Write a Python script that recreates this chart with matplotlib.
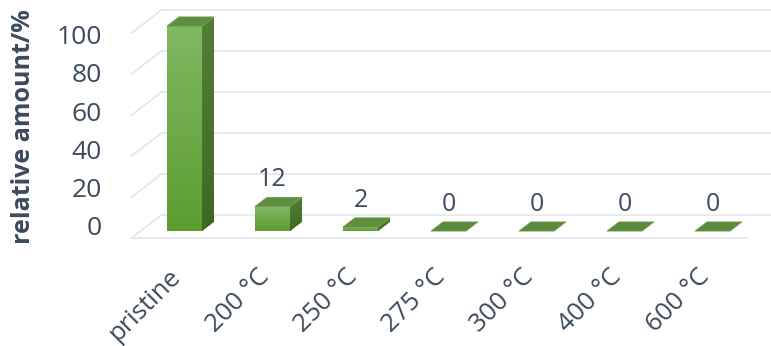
import matplotlib
matplotlib.use("Agg")
import matplotlib.pyplot as plt
import numpy as np
from matplotlib.patches import Polygon
from matplotlib.colors import LinearSegmentedColormap

plt.rcParams['font.family'] = ['Open Sans', 'DejaVu Sans']

categories = ['pristine', '200 °C', '250 °C', '275 °C', '300 °C', '400 °C', '600 °C']
values = [100, 12, 2, 0, 0, 0, 0]
yticks = [0, 20, 40, 60, 80, 100]

txt = '#3c4a5d'
grid = '#e2e5eb'

# oblique "3d" projection: depth d in [0, 1] shifts right and up
DX = 30 / 88.0
DY = 23 / 2.05
W = 0.2
D0, D1 = 0.3, 0.7


def proj(x, y, d):
    return (x + d * DX, y + d * DY)


fig = plt.figure(figsize=(7.71, 3.46), dpi=100)
ax = fig.add_axes([0, 0, 1, 1])
ax.axis('off')

n = len(categories)
left, right = -0.5, n - 0.5

# back wall gridlines and left wall diagonals
for t in yticks:
    p0 = proj(left, t, 1)
    p1 = proj(right + 0.2, t, 1)
    ax.plot([p0[0], p1[0]], [p0[1], p1[1]], color=grid, lw=1.2, zorder=1)
    q0 = proj(left, t, 0)
    ax.plot([q0[0], p0[0]], [q0[1], p0[1]], color=grid, lw=1.2, zorder=1)
# floor front edge
f0 = proj(left, 0, 0)
f1 = proj(right, 0, 0)
ax.plot([f0[0], f1[0]], [f0[1], f1[1]], color=grid, lw=1.2, zorder=1)

cmap_front = LinearSegmentedColormap.from_list('f', ['#5c9c30', '#80b862'])
cmap_side = LinearSegmentedColormap.from_list('s', ['#3e6922', '#527f35'])
grad = np.linspace(0, 1, 100).reshape(-1, 1)

for i, v in enumerate(values):
    xl, xr = i - W, i + W
    if v > 0:
        # front face
        a = proj(xl, 0, D0)
        b = proj(xr, v, D0)
        ax.imshow(grad, extent=[a[0], b[0], a[1], b[1]], origin='lower',
                  cmap=cmap_front, aspect='auto', zorder=3)
        # side face
        sp = Polygon([proj(xr, 0, D0), proj(xr, v, D0), proj(xr, v, D1), proj(xr, 0, D1)],
                     closed=True, facecolor='none', edgecolor='none')
        ax.add_patch(sp)
        s0 = proj(xr, 0, D0)
        s1 = proj(xr, v, D1)
        ims = ax.imshow(grad, extent=[s0[0], s1[0], s0[1], s1[1]], origin='lower',
                        cmap=cmap_side, aspect='auto', zorder=3)
        ims.set_clip_path(sp)
        topc = '#5f8e40'
    else:
        topc = '#5b8a3c'
    top = Polygon([proj(xl, v, D0), proj(xr, v, D0), proj(xr, v, D1), proj(xl, v, D1)],
                  closed=True, facecolor=topc, edgecolor='#6f9f50', lw=0.5, zorder=4)
    ax.add_patch(top)
    if i > 0:
        lx, ly = proj(i, v, D1)
        ax.text(i + D0 * DX, ly + 2.5, str(v), ha='center', va='bottom',
                fontsize=18, color=txt, zorder=5)

# y tick labels (front-left)
for t in yticks:
    ax.text(-0.835, 4.4 + 0.934 * t, str(t), ha='right', va='center',
            fontsize=19, color=txt)

# x tick labels
for i, c in enumerate(categories):
    ax.text(i + D0 * DX - 0.03, -19.5, c, rotation=45, rotation_mode='anchor',
            ha='right', va='baseline', fontsize=18.5, color=txt)

fig.text(0.031, 0.633, 'relative amount/%', rotation=90, ha='center', va='center',
         fontsize=18, fontweight='bold', color=txt)

ax.set_xlim(-175.5 / 88, (771 - 175.5) / 88)
ax.set_ylim((238 - 346) / 2.05, 238 / 2.05)

fig.savefig('out.png', dpi=100)
